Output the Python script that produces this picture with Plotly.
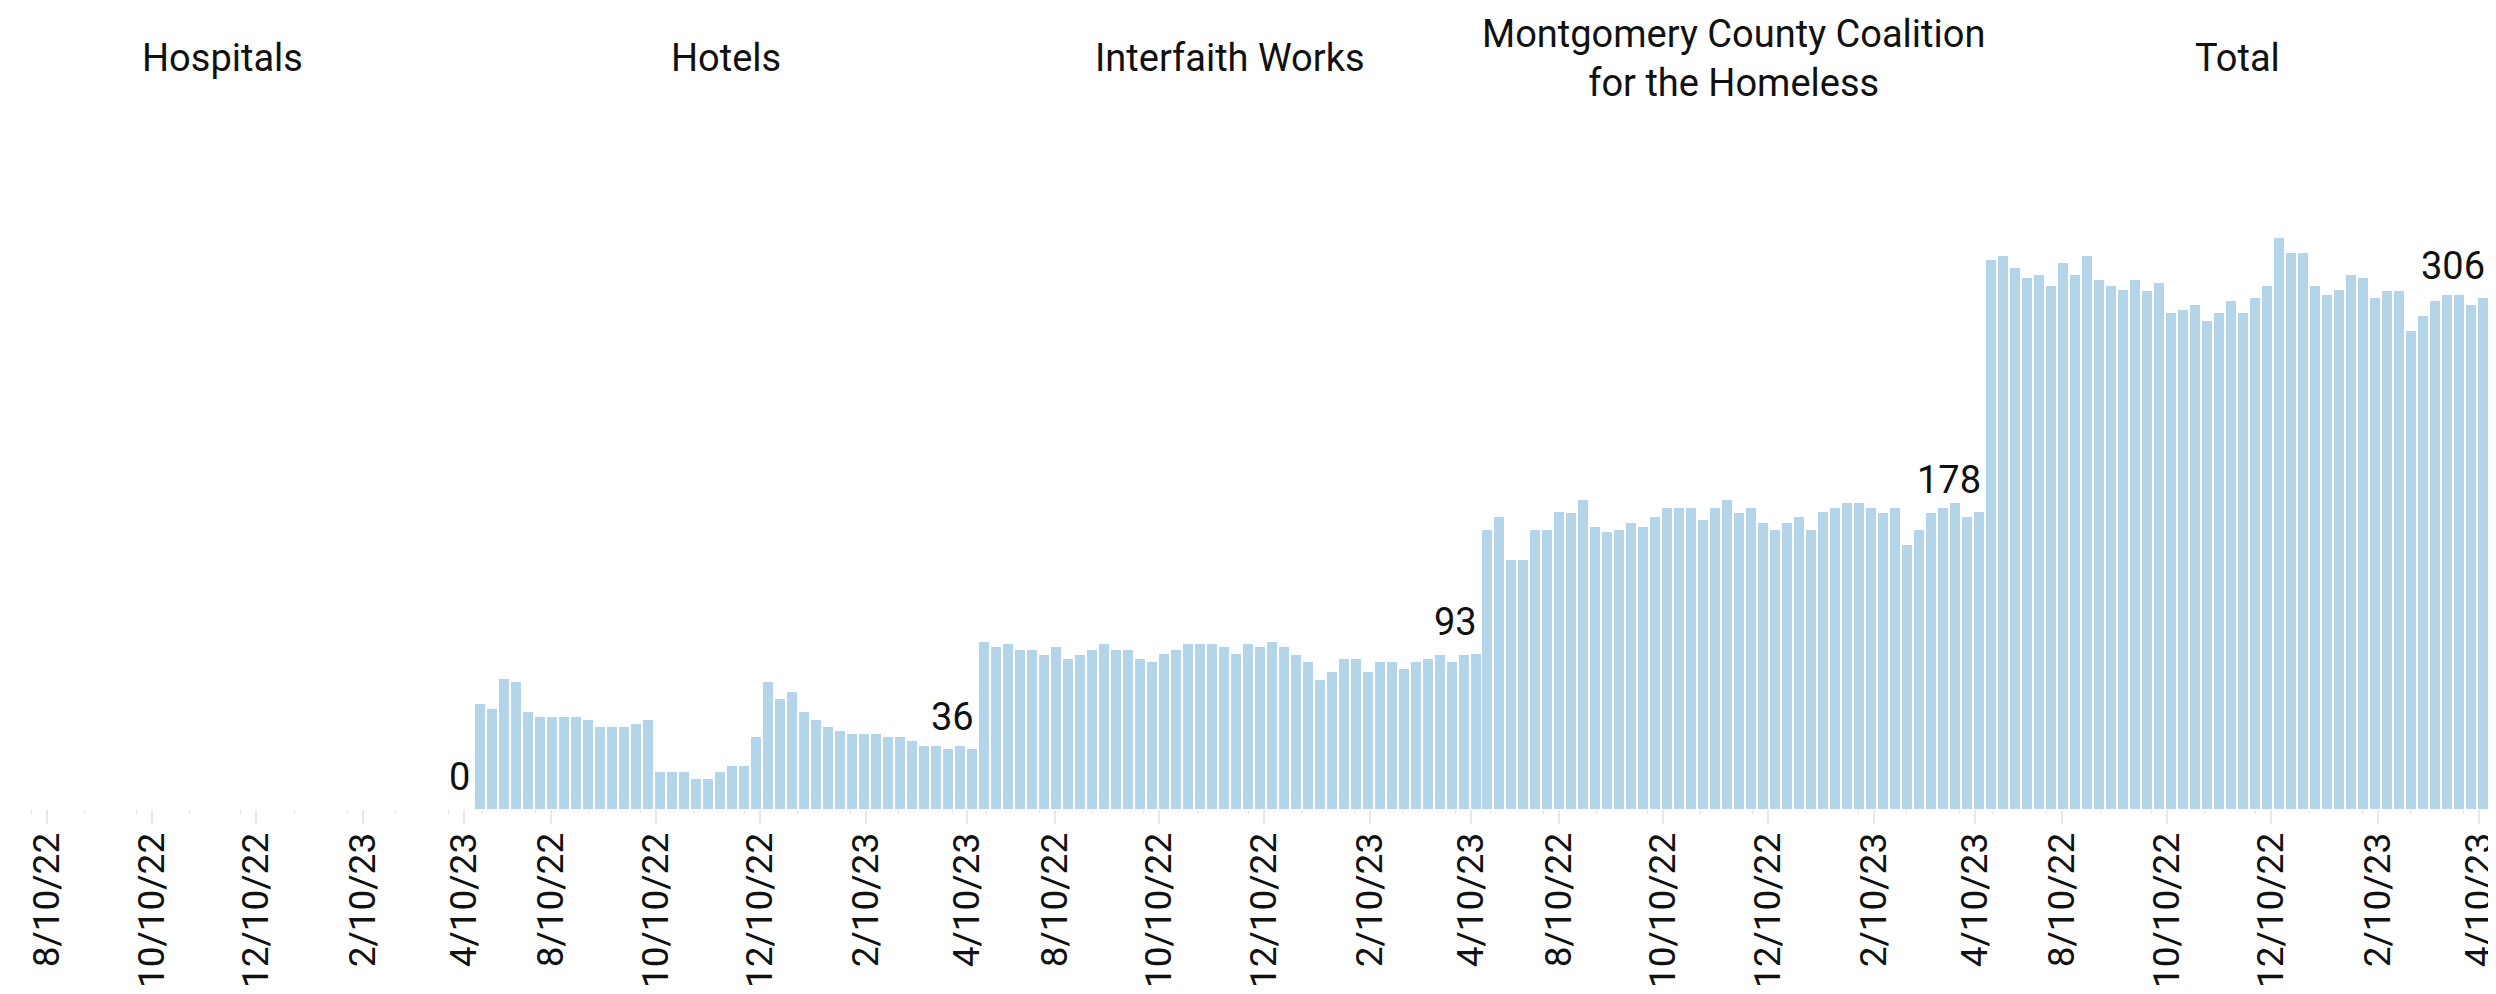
import plotly.graph_objects as go
from datetime import datetime, timedelta

# ---------------- data ----------------
WEEKS = [
    "2022-06-26", "2022-07-03", "2022-07-10", "2022-07-17", "2022-07-24", "2022-07-31",
    "2022-08-07", "2022-08-14", "2022-08-21", "2022-08-28", "2022-09-04", "2022-09-11",
    "2022-09-18", "2022-09-25", "2022-10-02", "2022-10-09", "2022-10-16", "2022-10-23",
    "2022-10-30", "2022-11-06", "2022-11-13", "2022-11-20", "2022-11-27", "2022-12-04",
    "2022-12-11", "2022-12-18", "2022-12-25", "2023-01-01", "2023-01-08", "2023-01-15",
    "2023-01-22", "2023-01-29", "2023-02-05", "2023-02-12", "2023-02-19", "2023-02-26",
    "2023-03-05", "2023-03-12", "2023-03-19", "2023-03-26", "2023-04-02", "2023-04-09",
]

PANELS = ["Hospitals", "Hotels", "Interfaith Works",
          "Montgomery County Coalition<br>for the Homeless", "Total"]

HOSPITALS = [0, 0, 0, 0, 0, 0, 0, 0, 0, 0, 0, 0, 0, 0, 0, 0, 0, 0, 0, 0, 0,
             0, 0, 0, 0, 0, 0, 0, 0, 0, 0, 0, 0, 0, 0, 0, 0, 0, 0, 0, 0, 0]

HOTELS = [63, 60, 78, 76, 58, 55, 55, 55, 55, 53, 49, 49, 49, 51, 53, 22, 22, 22,
          18, 18, 22, 26, 26, 43, 76, 66, 70, 58, 53, 49, 47, 45, 45, 45, 43, 43,
          41, 38, 38, 36, 38, 36]

INTERFAITH = [100, 97, 99, 95, 95, 92, 97, 90, 92, 95, 99, 95, 95, 90, 88, 93, 95,
              99, 99, 99, 97, 93, 99, 97, 100, 97, 92, 88, 77, 82, 90, 90, 82, 88,
              88, 84, 88, 90, 92, 88, 92, 93]

MCCH = [167, 175, 149, 149, 167, 167, 178, 177, 185, 169, 166, 167, 171, 169, 175,
        180, 180, 180, 173, 180, 185, 177, 180, 171, 167, 171, 175, 167, 178, 180,
        183, 183, 180, 177, 180, 158, 167, 177, 180, 183, 175, 178]

TOTAL = [329, 331, 324, 318, 320, 313, 327, 320, 331, 317, 313, 311, 317, 310, 315,
         297, 299, 302, 292, 297, 304, 297, 306, 313, 342, 333, 333, 313, 308, 311,
         320, 318, 306, 310, 310, 286, 295, 304, 308, 308, 302, 306]

SERIES = [HOSPITALS, HOTELS, INTERFAITH, MCCH, TOTAL]

TICK_VALS = ["2022-08-10", "2022-10-10", "2022-12-10", "2023-02-10", "2023-04-10"]
TICK_TEXT = ["8/10/22", "10/10/22", "12/10/22", "2/10/23", "4/10/23"]

# ---------------- style / layout ----------------
W, H = 2496, 994
FONT = "Roboto, 'Open Sans', sans-serif"
BAR_COLOR = "#b4d4ea"
DAY_MS = 86400000
PANEL_PX = 506
BOUNDS = [468, 974, 1480, 1986, 2492]   # right edge (px) of each panel
BASE_PX = 801                           # baseline pixel row
PX_PER_UNIT = 1.67

start = datetime.fromisoformat(WEEKS[0])
end = datetime.fromisoformat(WEEKS[-1]) + timedelta(days=7)
span_days = (end - start).days
mid = start + (end - start) / 2

fig = go.Figure()

layout = dict(
    width=W, height=H,
    margin=dict(l=0, r=0, t=0, b=0),
    paper_bgcolor="white", plot_bgcolor="white",
    showlegend=False,
    bargap=0,
    font=dict(family=FONT, size=38, color="#111"),
    yaxis=dict(domain=[(H - BASE_PX) / H, 1], range=[0, BASE_PX / PX_PER_UNIT],
               visible=False, fixedrange=True),
)

annotations = []
for i, (name, vals) in enumerate(zip(PANELS, SERIES)):
    xa = "x" if i == 0 else f"x{i+1}"
    key = "xaxis" if i == 0 else f"xaxis{i+1}"
    right = BOUNDS[i]
    left = right - PANEL_PX
    if left < 0:
        vis_days = span_days * right / PANEL_PX
        rng_start = end - timedelta(days=vis_days)
        left = 0
    else:
        rng_start = start
    layout[key] = dict(
        domain=[left / W, right / W],
        anchor="y",
        type="date",
        range=[rng_start, end],
        showgrid=False, zeroline=False, showline=False,
        tickmode="array", tickvals=TICK_VALS, ticktext=TICK_TEXT,
        tickangle=-90,
        ticks="outside", ticklen=14, tickwidth=2, tickcolor="#e8e8e8",
        ticklabelstandoff=-6,
        tickfont=dict(family=FONT, size=37, color="#111"),
        minor=dict(ticks="outside", ticklen=4, tickwidth=1, tickcolor="#e4e4e4",
                   dtick="M1", tick0="2022-07-01"),
        fixedrange=True,
    )
    fig.add_trace(go.Bar(
        x=WEEKS, y=vals, xaxis=xa, yaxis="y",
        xperiod=7 * DAY_MS, xperiod0=WEEKS[0], xperiodalignment="middle",
        width=6.1 * DAY_MS,
        marker=dict(color=BAR_COLOR, line=dict(width=0)),
        hoverinfo="x+y",
    ))
    # panel title
    annotations.append(dict(
        x=mid, xref=xa, y=1 - 50 / H, yref="paper",
        text=name, showarrow=False, xanchor="center", yanchor="middle",
        font=dict(family=FONT, size=38, color="#111"),
    ))
    # last-value label
    annotations.append(dict(
        x=end, xref=xa, y=vals[-1], yref="y",
        text=str(vals[-1]), showarrow=False, xanchor="right", yanchor="bottom",
        xshift=-2, yshift=8,
        font=dict(family=FONT, size=38, color="#111"),
    ))

layout["annotations"] = annotations
fig.update_layout(**layout)

fig.write_html("out.html")
